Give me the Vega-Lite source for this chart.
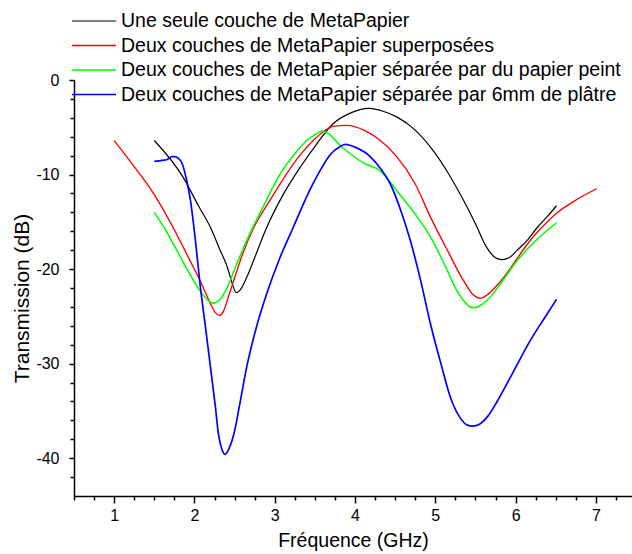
{
  "$schema": "https://vega.github.io/schema/vega-lite/v6.json",
  "width": 558,
  "height": 416,
  "autosize": {"type": "none"},
  "padding": {"left": 74, "top": 80, "right": 0, "bottom": 58},
  "background": "white",
  "config": {
    "view": {"stroke": null},
    "font": "Liberation Sans",
    "axis": {"grid": false, "domainColor": "black", "tickColor": "black", "labelColor": "black", "titleColor": "black", "labelFont": "Liberation Sans", "titleFont": "Liberation Sans", "titleFontWeight": "normal", "domainWidth": 1.5, "tickWidth": 1.5}
  },
  "data": {"values": [
    {"serie": "Une seule couche de MetaPapier", "f": 1.50, "v": -6.4},
    {"serie": "Une seule couche de MetaPapier", "f": 1.86, "v": -10.3},
    {"serie": "Une seule couche de MetaPapier", "f": 2.05, "v": -13.3},
    {"serie": "Une seule couche de MetaPapier", "f": 2.20, "v": -15.6},
    {"serie": "Une seule couche de MetaPapier", "f": 2.32, "v": -18.0},
    {"serie": "Une seule couche de MetaPapier", "f": 2.41, "v": -19.8},
    {"serie": "Une seule couche de MetaPapier", "f": 2.47, "v": -21.5},
    {"serie": "Une seule couche de MetaPapier", "f": 2.52, "v": -22.5},
    {"serie": "Une seule couche de MetaPapier", "f": 2.57, "v": -22.2},
    {"serie": "Une seule couche de MetaPapier", "f": 2.65, "v": -20.9},
    {"serie": "Une seule couche de MetaPapier", "f": 2.75, "v": -18.8},
    {"serie": "Une seule couche de MetaPapier", "f": 2.90, "v": -15.6},
    {"serie": "Une seule couche de MetaPapier", "f": 3.10, "v": -12.2},
    {"serie": "Une seule couche de MetaPapier", "f": 3.32, "v": -9.2},
    {"serie": "Une seule couche de MetaPapier", "f": 3.52, "v": -6.8},
    {"serie": "Une seule couche de MetaPapier", "f": 3.73, "v": -4.6},
    {"serie": "Une seule couche de MetaPapier", "f": 3.94, "v": -3.5},
    {"serie": "Une seule couche de MetaPapier", "f": 4.17, "v": -3.0},
    {"serie": "Une seule couche de MetaPapier", "f": 4.35, "v": -3.3},
    {"serie": "Une seule couche de MetaPapier", "f": 4.52, "v": -3.9},
    {"serie": "Une seule couche de MetaPapier", "f": 4.75, "v": -5.3},
    {"serie": "Une seule couche de MetaPapier", "f": 4.94, "v": -7.1},
    {"serie": "Une seule couche de MetaPapier", "f": 5.15, "v": -9.7},
    {"serie": "Une seule couche de MetaPapier", "f": 5.35, "v": -12.7},
    {"serie": "Une seule couche de MetaPapier", "f": 5.50, "v": -15.2},
    {"serie": "Une seule couche de MetaPapier", "f": 5.64, "v": -17.7},
    {"serie": "Une seule couche de MetaPapier", "f": 5.75, "v": -18.8},
    {"serie": "Une seule couche de MetaPapier", "f": 5.83, "v": -19.0},
    {"serie": "Une seule couche de MetaPapier", "f": 5.92, "v": -18.8},
    {"serie": "Une seule couche de MetaPapier", "f": 6.02, "v": -18.0},
    {"serie": "Une seule couche de MetaPapier", "f": 6.15, "v": -16.9},
    {"serie": "Une seule couche de MetaPapier", "f": 6.27, "v": -15.6},
    {"serie": "Une seule couche de MetaPapier", "f": 6.40, "v": -14.4},
    {"serie": "Une seule couche de MetaPapier", "f": 6.51, "v": -13.3},

    {"serie": "Deux couches de MetaPapier superposées", "f": 1.00, "v": -6.4},
    {"serie": "Deux couches de MetaPapier superposées", "f": 1.20, "v": -8.6},
    {"serie": "Deux couches de MetaPapier superposées", "f": 1.49, "v": -12.0},
    {"serie": "Deux couches de MetaPapier superposées", "f": 1.65, "v": -14.3},
    {"serie": "Deux couches de MetaPapier superposées", "f": 1.82, "v": -17.0},
    {"serie": "Deux couches de MetaPapier superposées", "f": 1.95, "v": -19.2},
    {"serie": "Deux couches de MetaPapier superposées", "f": 2.07, "v": -21.2},
    {"serie": "Deux couches de MetaPapier superposées", "f": 2.18, "v": -23.3},
    {"serie": "Deux couches de MetaPapier superposées", "f": 2.26, "v": -24.6},
    {"serie": "Deux couches de MetaPapier superposées", "f": 2.31, "v": -24.9},
    {"serie": "Deux couches de MetaPapier superposées", "f": 2.36, "v": -24.5},
    {"serie": "Deux couches de MetaPapier superposées", "f": 2.42, "v": -23.0},
    {"serie": "Deux couches de MetaPapier superposées", "f": 2.49, "v": -21.2},
    {"serie": "Deux couches de MetaPapier superposées", "f": 2.60, "v": -18.4},
    {"serie": "Deux couches de MetaPapier superposées", "f": 2.74, "v": -15.6},
    {"serie": "Deux couches de MetaPapier superposées", "f": 2.95, "v": -12.6},
    {"serie": "Deux couches de MetaPapier superposées", "f": 3.15, "v": -9.9},
    {"serie": "Deux couches de MetaPapier superposées", "f": 3.30, "v": -8.1},
    {"serie": "Deux couches de MetaPapier superposées", "f": 3.48, "v": -6.4},
    {"serie": "Deux couches de MetaPapier superposées", "f": 3.60, "v": -5.5},
    {"serie": "Deux couches de MetaPapier superposées", "f": 3.73, "v": -4.9},
    {"serie": "Deux couches de MetaPapier superposées", "f": 3.90, "v": -4.8},
    {"serie": "Deux couches de MetaPapier superposées", "f": 4.11, "v": -5.3},
    {"serie": "Deux couches de MetaPapier superposées", "f": 4.30, "v": -6.3},
    {"serie": "Deux couches de MetaPapier superposées", "f": 4.52, "v": -8.1},
    {"serie": "Deux couches de MetaPapier superposées", "f": 4.75, "v": -11.0},
    {"serie": "Deux couches de MetaPapier superposées", "f": 4.94, "v": -14.5},
    {"serie": "Deux couches de MetaPapier superposées", "f": 5.15, "v": -18.0},
    {"serie": "Deux couches de MetaPapier superposées", "f": 5.35, "v": -21.2},
    {"serie": "Deux couches de MetaPapier superposées", "f": 5.47, "v": -22.7},
    {"serie": "Deux couches de MetaPapier superposées", "f": 5.56, "v": -23.1},
    {"serie": "Deux couches de MetaPapier superposées", "f": 5.65, "v": -22.7},
    {"serie": "Deux couches de MetaPapier superposées", "f": 5.75, "v": -21.9},
    {"serie": "Deux couches de MetaPapier superposées", "f": 5.85, "v": -20.9},
    {"serie": "Deux couches de MetaPapier superposées", "f": 6.00, "v": -19.1},
    {"serie": "Deux couches de MetaPapier superposées", "f": 6.18, "v": -17.0},
    {"serie": "Deux couches de MetaPapier superposées", "f": 6.35, "v": -15.4},
    {"serie": "Deux couches de MetaPapier superposées", "f": 6.51, "v": -14.1},
    {"serie": "Deux couches de MetaPapier superposées", "f": 6.75, "v": -12.7},
    {"serie": "Deux couches de MetaPapier superposées", "f": 7.01, "v": -11.5},

    {"serie": "Deux couches de MetaPapier séparée par du papier peint", "f": 1.50, "v": -14.0},
    {"serie": "Deux couches de MetaPapier séparée par du papier peint", "f": 1.65, "v": -16.0},
    {"serie": "Deux couches de MetaPapier séparée par du papier peint", "f": 1.78, "v": -18.0},
    {"serie": "Deux couches de MetaPapier séparée par du papier peint", "f": 1.92, "v": -20.2},
    {"serie": "Deux couches de MetaPapier séparée par du papier peint", "f": 2.07, "v": -22.3},
    {"serie": "Deux couches de MetaPapier séparée par du papier peint", "f": 2.17, "v": -23.3},
    {"serie": "Deux couches de MetaPapier séparée par du papier peint", "f": 2.24, "v": -23.6},
    {"serie": "Deux couches de MetaPapier séparée par du papier peint", "f": 2.31, "v": -23.3},
    {"serie": "Deux couches de MetaPapier séparée par du papier peint", "f": 2.41, "v": -21.9},
    {"serie": "Deux couches de MetaPapier séparée par du papier peint", "f": 2.52, "v": -19.6},
    {"serie": "Deux couches de MetaPapier séparée par du papier peint", "f": 2.65, "v": -17.0},
    {"serie": "Deux couches de MetaPapier séparée par du papier peint", "f": 2.85, "v": -13.5},
    {"serie": "Deux couches de MetaPapier séparée par du papier peint", "f": 3.07, "v": -9.9},
    {"serie": "Deux couches de MetaPapier séparée par du papier peint", "f": 3.25, "v": -7.8},
    {"serie": "Deux couches de MetaPapier séparée par du papier peint", "f": 3.40, "v": -6.4},
    {"serie": "Deux couches de MetaPapier séparée par du papier peint", "f": 3.52, "v": -5.7},
    {"serie": "Deux couches de MetaPapier séparée par du papier peint", "f": 3.59, "v": -5.4},
    {"serie": "Deux couches de MetaPapier séparée par du papier peint", "f": 3.69, "v": -5.8},
    {"serie": "Deux couches de MetaPapier séparée par du papier peint", "f": 3.80, "v": -6.8},
    {"serie": "Deux couches de MetaPapier séparée par du papier peint", "f": 3.94, "v": -7.8},
    {"serie": "Deux couches de MetaPapier séparée par du papier peint", "f": 4.11, "v": -8.8},
    {"serie": "Deux couches de MetaPapier séparée par du papier peint", "f": 4.31, "v": -9.6},
    {"serie": "Deux couches de MetaPapier séparée par du papier peint", "f": 4.52, "v": -11.7},
    {"serie": "Deux couches de MetaPapier séparée par du papier peint", "f": 4.75, "v": -14.2},
    {"serie": "Deux couches de MetaPapier séparée par du papier peint", "f": 4.94, "v": -16.6},
    {"serie": "Deux couches de MetaPapier séparée par du papier peint", "f": 5.12, "v": -19.6},
    {"serie": "Deux couches de MetaPapier séparée par du papier peint", "f": 5.27, "v": -22.3},
    {"serie": "Deux couches de MetaPapier séparée par du papier peint", "f": 5.38, "v": -23.6},
    {"serie": "Deux couches de MetaPapier séparée par du papier peint", "f": 5.47, "v": -24.1},
    {"serie": "Deux couches de MetaPapier séparée par du papier peint", "f": 5.57, "v": -23.8},
    {"serie": "Deux couches de MetaPapier séparée par du papier peint", "f": 5.68, "v": -23.0},
    {"serie": "Deux couches de MetaPapier séparée par du papier peint", "f": 5.85, "v": -21.1},
    {"serie": "Deux couches de MetaPapier séparée par du papier peint", "f": 6.02, "v": -19.1},
    {"serie": "Deux couches de MetaPapier séparée par du papier peint", "f": 6.25, "v": -17.0},
    {"serie": "Deux couches de MetaPapier séparée par du papier peint", "f": 6.51, "v": -15.1},

    {"serie": "Deux couches de MetaPapier séparée par 6mm de plâtre", "f": 1.50, "v": -8.6},
    {"serie": "Deux couches de MetaPapier séparée par 6mm de plâtre", "f": 1.60, "v": -8.5},
    {"serie": "Deux couches de MetaPapier séparée par 6mm de plâtre", "f": 1.66, "v": -8.4},
    {"serie": "Deux couches de MetaPapier séparée par 6mm de plâtre", "f": 1.72, "v": -8.1},
    {"serie": "Deux couches de MetaPapier séparée par 6mm de plâtre", "f": 1.76, "v": -8.1},
    {"serie": "Deux couches de MetaPapier séparée par 6mm de plâtre", "f": 1.80, "v": -8.3},
    {"serie": "Deux couches de MetaPapier séparée par 6mm de plâtre", "f": 1.84, "v": -8.7},
    {"serie": "Deux couches de MetaPapier séparée par 6mm de plâtre", "f": 1.90, "v": -10.5},
    {"serie": "Deux couches de MetaPapier séparée par 6mm de plâtre", "f": 1.95, "v": -12.7},
    {"serie": "Deux couches de MetaPapier séparée par 6mm de plâtre", "f": 2.01, "v": -16.8},
    {"serie": "Deux couches de MetaPapier séparée par 6mm de plâtre", "f": 2.07, "v": -21.6},
    {"serie": "Deux couches de MetaPapier séparée par 6mm de plâtre", "f": 2.14, "v": -26.3},
    {"serie": "Deux couches de MetaPapier séparée par 6mm de plâtre", "f": 2.20, "v": -30.4},
    {"serie": "Deux couches de MetaPapier séparée par 6mm de plâtre", "f": 2.26, "v": -34.5},
    {"serie": "Deux couches de MetaPapier séparée par 6mm de plâtre", "f": 2.30, "v": -37.5},
    {"serie": "Deux couches de MetaPapier séparée par 6mm de plâtre", "f": 2.34, "v": -39.0},
    {"serie": "Deux couches de MetaPapier séparée par 6mm de plâtre", "f": 2.38, "v": -39.6},
    {"serie": "Deux couches de MetaPapier séparée par 6mm de plâtre", "f": 2.43, "v": -39.0},
    {"serie": "Deux couches de MetaPapier séparée par 6mm de plâtre", "f": 2.49, "v": -37.5},
    {"serie": "Deux couches de MetaPapier séparée par 6mm de plâtre", "f": 2.56, "v": -34.5},
    {"serie": "Deux couches de MetaPapier séparée par 6mm de plâtre", "f": 2.65, "v": -30.4},
    {"serie": "Deux couches de MetaPapier séparée par 6mm de plâtre", "f": 2.77, "v": -26.2},
    {"serie": "Deux couches de MetaPapier séparée par 6mm de plâtre", "f": 2.90, "v": -22.6},
    {"serie": "Deux couches de MetaPapier séparée par 6mm de plâtre", "f": 3.06, "v": -18.9},
    {"serie": "Deux couches de MetaPapier séparée par 6mm de plâtre", "f": 3.23, "v": -15.6},
    {"serie": "Deux couches de MetaPapier séparée par 6mm de plâtre", "f": 3.40, "v": -12.3},
    {"serie": "Deux couches de MetaPapier séparée par 6mm de plâtre", "f": 3.57, "v": -9.5},
    {"serie": "Deux couches de MetaPapier séparée par 6mm de plâtre", "f": 3.69, "v": -7.9},
    {"serie": "Deux couches de MetaPapier séparée par 6mm de plâtre", "f": 3.82, "v": -7.0},
    {"serie": "Deux couches de MetaPapier séparée par 6mm de plâtre", "f": 3.88, "v": -6.8},
    {"serie": "Deux couches de MetaPapier séparée par 6mm de plâtre", "f": 4.00, "v": -7.1},
    {"serie": "Deux couches de MetaPapier séparée par 6mm de plâtre", "f": 4.19, "v": -8.1},
    {"serie": "Deux couches de MetaPapier séparée par 6mm de plâtre", "f": 4.32, "v": -9.4},
    {"serie": "Deux couches de MetaPapier séparée par 6mm de plâtre", "f": 4.44, "v": -11.0},
    {"serie": "Deux couches de MetaPapier séparée par 6mm de plâtre", "f": 4.57, "v": -13.8},
    {"serie": "Deux couches de MetaPapier séparée par 6mm de plâtre", "f": 4.69, "v": -17.0},
    {"serie": "Deux couches de MetaPapier séparée par 6mm de plâtre", "f": 4.82, "v": -21.3},
    {"serie": "Deux couches de MetaPapier séparée par 6mm de plâtre", "f": 4.94, "v": -25.8},
    {"serie": "Deux couches de MetaPapier séparée par 6mm de plâtre", "f": 5.07, "v": -30.0},
    {"serie": "Deux couches de MetaPapier séparée par 6mm de plâtre", "f": 5.19, "v": -33.6},
    {"serie": "Deux couches de MetaPapier séparée par 6mm de plâtre", "f": 5.30, "v": -35.6},
    {"serie": "Deux couches de MetaPapier séparée par 6mm de plâtre", "f": 5.40, "v": -36.5},
    {"serie": "Deux couches de MetaPapier séparée par 6mm de plâtre", "f": 5.47, "v": -36.6},
    {"serie": "Deux couches de MetaPapier séparée par 6mm de plâtre", "f": 5.55, "v": -36.4},
    {"serie": "Deux couches de MetaPapier séparée par 6mm de plâtre", "f": 5.66, "v": -35.5},
    {"serie": "Deux couches de MetaPapier séparée par 6mm de plâtre", "f": 5.77, "v": -34.0},
    {"serie": "Deux couches de MetaPapier séparée par 6mm de plâtre", "f": 5.97, "v": -30.9},
    {"serie": "Deux couches de MetaPapier séparée par 6mm de plâtre", "f": 6.18, "v": -27.6},
    {"serie": "Deux couches de MetaPapier séparée par 6mm de plâtre", "f": 6.35, "v": -25.3},
    {"serie": "Deux couches de MetaPapier séparée par 6mm de plâtre", "f": 6.51, "v": -23.2}
  ]},
  "mark": {"type": "line", "interpolate": "monotone", "clip": true},
  "encoding": {
    "x": {
      "field": "f", "type": "quantitative",
      "scale": {"domain": [0.5, 7.45], "nice": false, "zero": false},
      "axis": {
        "title": "Fréquence (GHz)", "titleFontSize": 19.5, "titlePadding": 8,
        "values": [0.5, 0.75, 1, 1.25, 1.5, 1.75, 2, 2.25, 2.5, 2.75, 3, 3.25, 3.5, 3.75, 4, 4.25, 4.5, 4.75, 5, 5.25, 5.5, 5.75, 6, 6.25, 6.5, 6.75, 7, 7.25],
        "labelExpr": "datum.value % 1 === 0 ? '' + datum.value : ''",
        "labelOverlap": false, "labelFlush": false,
        "labelFontSize": 16, "labelPadding": 4,
        "tickSize": {"condition": {"test": "datum.value % 1 === 0", "value": 7}, "value": 4}
      }
    },
    "y": {
      "field": "v", "type": "quantitative",
      "scale": {"domain": [-44, 0], "nice": false, "zero": false},
      "axis": {
        "title": "Transmission (dB)", "titleFontSize": 21, "titlePadding": 3, "titleY": 218, "titleAlign": "center",
        "values": [0, -2, -4, -6, -8, -10, -12, -14, -16, -18, -20, -22, -24, -26, -28, -30, -32, -34, -36, -38, -40, -42],
        "labelExpr": "datum.value % 10 === 0 ? '' + datum.value : ''",
        "labelOverlap": false, "labelFlush": false,
        "labelFontSize": 16, "labelPadding": 10,
        "tickSize": {"condition": {"test": "datum.value % 10 === 0", "value": 5}, "value": 4}
      }
    },
    "color": {
      "field": "serie", "type": "nominal",
      "scale": {
        "domain": ["Une seule couche de MetaPapier", "Deux couches de MetaPapier superposées", "Deux couches de MetaPapier séparée par du papier peint", "Deux couches de MetaPapier séparée par 6mm de plâtre"],
        "range": ["#000000", "#ff0000", "#00ff00", "#0000ff"]
      },
      "legend": {
        "title": null, "orient": "none", "legendX": 8, "legendY": -71,
        "symbolType": "M-2,0H2", "symbolSize": 484, "symbolStrokeWidth": 2,
        "labelFontSize": 19.5, "labelFont": "Liberation Sans", "labelColor": "black",
        "labelOffset": 15, "rowPadding": 2.5, "padding": 0, "labelLimit": 600
      }
    },
    "strokeWidth": {
      "field": "serie", "type": "nominal",
      "scale": {
        "domain": ["Une seule couche de MetaPapier", "Deux couches de MetaPapier superposées", "Deux couches de MetaPapier séparée par du papier peint", "Deux couches de MetaPapier séparée par 6mm de plâtre"],
        "range": [1.2, 1.7, 2.3, 1.7]
      },
      "legend": null
    }
  }
}
